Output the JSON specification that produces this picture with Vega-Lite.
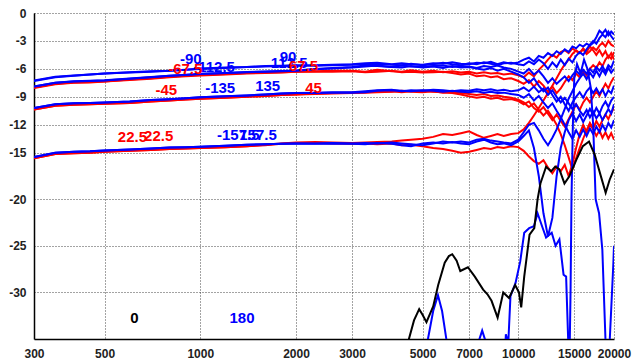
{
"$schema":"https://vega.github.io/schema/vega-lite/v6.json",
"width":580,"height":326,
"autosize":{"type":"none"},
"padding":{"left":34,"top":13,"right":19,"bottom":21},
"config":{
 "view":{"stroke":null},
 "font":"Liberation Sans",
 "locale":{"number":{"decimal":".","thousands":",","grouping":[3],"currency":["$",""],"minus":"-"}},
 "axis":{"labelFont":"Liberation Sans","labelFontWeight":"bold","labelFontSize":12,"labelColor":"#222","grid":true,"gridColor":"#333","gridDash":[1,2],"gridWidth":1,"gridOpacity":0.9,"domainColor":"#000","domainWidth":1.5,"ticks":false,"title":null}
},
"datasets":{
"main":[
{"f":300,"p90":-7.3,"m90":-7.25,"p112":-7.88,"m112":-7.9,"p67":-8.0,"m67":-8.05,"p45":-10.35,"m45":-10.35,"p135":-10.2,"m135":-10.2,"p22":-15.6,"m22":-15.6,"p157":-15.45,"m157":-15.45},
{"f":350,"p90":-6.9,"m90":-6.85,"p112":-7.48,"m112":-7.5,"p67":-7.6,"m67":-7.65,"p45":-9.95,"m45":-9.95,"p135":-9.8,"m135":-9.8,"p22":-15.15,"m22":-15.15,"p157":-15.0,"m157":-15.0},
{"f":400,"p90":-6.75,"m90":-6.7,"p112":-7.33,"m112":-7.35,"p67":-7.45,"m67":-7.5,"p45":-9.85,"m45":-9.85,"p135":-9.7,"m135":-9.7,"p22":-15.05,"m22":-15.05,"p157":-14.9,"m157":-14.9},
{"f":450,"p90":-6.6,"m90":-6.6,"p112":-7.28,"m112":-7.3,"p67":-7.4,"m67":-7.45,"p45":-9.8,"m45":-9.8,"p135":-9.65,"m135":-9.65,"p22":-15.0,"m22":-15.0,"p157":-14.85,"m157":-14.85},
{"f":500,"p90":-6.5,"m90":-6.5,"p112":-7.23,"m112":-7.25,"p67":-7.35,"m67":-7.35,"p45":-9.75,"m45":-9.75,"p135":-9.6,"m135":-9.6,"p22":-14.9,"m22":-14.9,"p157":-14.75,"m157":-14.75},
{"f":600,"p90":-6.4,"m90":-6.35,"p112":-7.03,"m112":-7.05,"p67":-7.15,"m67":-7.2,"p45":-9.65,"m45":-9.65,"p135":-9.5,"m135":-9.5,"p22":-14.8,"m22":-14.8,"p157":-14.65,"m157":-14.65},
{"f":700,"p90":-6.3,"m90":-6.25,"p112":-6.88,"m112":-6.9,"p67":-7.0,"m67":-7.05,"p45":-9.5,"m45":-9.5,"p135":-9.35,"m135":-9.35,"p22":-14.7,"m22":-14.7,"p157":-14.55,"m157":-14.55},
{"f":800,"p90":-6.2,"m90":-6.2,"p112":-6.73,"m112":-6.75,"p67":-6.85,"m67":-6.9,"p45":-9.4,"m45":-9.4,"p135":-9.25,"m135":-9.25,"p22":-14.6,"m22":-14.6,"p157":-14.45,"m157":-14.45},
{"f":900,"p90":-6.1,"m90":-6.1,"p112":-6.63,"m112":-6.65,"p67":-6.75,"m67":-6.8,"p45":-9.3,"m45":-9.3,"p135":-9.15,"m135":-9.15,"p22":-14.55,"m22":-14.55,"p157":-14.4,"m157":-14.4},
{"f":1000,"p90":-6.0,"m90":-5.95,"p112":-6.53,"m112":-6.55,"p67":-6.65,"m67":-6.7,"p45":-9.2,"m45":-9.2,"p135":-9.05,"m135":-9.05,"p22":-14.5,"m22":-14.5,"p157":-14.35,"m157":-14.35},
{"f":1200,"p90":-5.9,"m90":-5.85,"p112":-6.43,"m112":-6.45,"p67":-6.55,"m67":-6.6,"p45":-9.1,"m45":-9.1,"p135":-8.95,"m135":-8.95,"p22":-14.4,"m22":-14.4,"p157":-14.25,"m157":-14.25},
{"f":1400,"p90":-5.8,"m90":-5.8,"p112":-6.33,"m112":-6.35,"p67":-6.45,"m67":-6.5,"p45":-9.0,"m45":-9.0,"p135":-8.85,"m135":-8.85,"p22":-14.3,"m22":-14.3,"p157":-14.15,"m157":-14.15},
{"f":1600,"p90":-5.75,"m90":-5.7,"p112":-6.28,"m112":-6.3,"p67":-6.4,"m67":-6.45,"p45":-8.9,"m45":-8.9,"p135":-8.75,"m135":-8.75,"p22":-14.15,"m22":-14.2,"p157":-14.1,"m157":-14.1},
{"f":1800,"p90":-5.7,"m90":-5.65,"p112":-6.23,"m112":-6.25,"p67":-6.35,"m67":-6.4,"p45":-8.8,"m45":-8.8,"p135":-8.65,"m135":-8.65,"p22":-14.0,"m22":-14.05,"p157":-14.05,"m157":-14.05},
{"f":2000,"p90":-5.65,"m90":-5.6,"p112":-6.18,"m112":-6.2,"p67":-6.3,"m67":-6.3,"p45":-8.75,"m45":-8.75,"p135":-8.6,"m135":-8.6,"p22":-13.9,"m22":-13.95,"p157":-14.0,"m157":-14.0},
{"f":2300,"p90":-5.6,"m90":-5.65,"p112":-6.0,"m112":-6.05,"p67":-6.25,"m67":-6.3,"p45":-8.65,"m45":-8.7,"p135":-8.55,"m135":-8.6,"p22":-13.85,"m22":-13.95,"p157":-14.0,"m157":-14.05},
{"f":2600,"p90":-5.55,"m90":-5.6,"p112":-5.9,"m112":-5.95,"p67":-6.2,"m67":-6.3,"p45":-8.6,"m45":-8.65,"p135":-8.5,"m135":-8.55,"p22":-13.9,"m22":-14.0,"p157":-13.95,"m157":-14.0},
{"f":3000,"p90":-5.5,"m90":-5.55,"p112":-5.8,"m112":-5.85,"p67":-6.2,"m67":-6.25,"p45":-8.55,"m45":-8.6,"p135":-8.5,"m135":-8.55,"p22":-13.95,"m22":-14.05,"p157":-14.0,"m157":-14.05},
{"f":3300,"p90":-5.4,"m90":-5.5,"p112":-5.65,"m112":-5.75,"p67":-6.3,"m67":-6.35,"p45":-8.5,"m45":-8.55,"p135":-8.4,"m135":-8.5,"p22":-13.9,"m22":-14.0,"p157":-13.95,"m157":-14.1},
{"f":3600,"p90":-5.35,"m90":-5.45,"p112":-5.7,"m112":-5.65,"p67":-6.1,"m67":-6.3,"p45":-8.45,"m45":-8.5,"p135":-8.3,"m135":-8.35,"p22":-13.85,"m22":-14.1,"p157":-14.0,"m157":-13.95},
{"f":4000,"p90":-5.5,"m90":-5.55,"p112":-5.8,"m112":-5.8,"p67":-6.25,"m67":-6.2,"p45":-8.4,"m45":-8.45,"p135":-8.25,"m135":-8.3,"p22":-13.8,"m22":-14.0,"p157":-13.9,"m157":-14.05},
{"f":4300,"p90":-5.4,"m90":-5.6,"p112":-5.65,"m112":-5.85,"p67":-6.3,"m67":-6.35,"p45":-8.5,"m45":-8.35,"p135":-8.4,"m135":-8.35,"p22":-13.7,"m22":-14.2,"p157":-14.0,"m157":-14.2},
{"f":4600,"p90":-5.5,"m90":-5.45,"p112":-5.75,"m112":-5.7,"p67":-6.15,"m67":-6.3,"p45":-8.4,"m45":-8.45,"p135":-8.3,"m135":-8.4,"p22":-13.6,"m22":-14.15,"p157":-14.1,"m157":-14.3},
{"f":5000,"p90":-5.55,"m90":-5.6,"p112":-5.8,"m112":-5.85,"p67":-6.3,"m67":-6.4,"p45":-8.35,"m45":-8.5,"p135":-8.35,"m135":-8.3,"p22":-13.5,"m22":-14.3,"p157":-14.2,"m157":-14.0},
{"f":5400,"p90":-5.4,"m90":-5.5,"p112":-5.7,"m112":-5.75,"p67":-6.2,"m67":-6.35,"p45":-8.45,"m45":-8.4,"p135":-8.25,"m135":-8.35,"p22":-13.3,"m22":-14.5,"p157":-14.0,"m157":-13.9},
{"f":5800,"p90":-5.45,"m90":-5.35,"p112":-5.65,"m112":-5.9,"p67":-6.35,"m67":-6.3,"p45":-8.5,"m45":-8.55,"p135":-8.3,"m135":-8.45,"p22":-13.0,"m22":-14.6,"p157":-13.8,"m157":-14.0},
{"f":6200,"p90":-5.3,"m90":-5.5,"p112":-5.8,"m112":-5.7,"p67":-6.25,"m67":-6.45,"p45":-8.6,"m45":-8.5,"p135":-8.4,"m135":-8.35,"p22":-13.1,"m22":-14.8,"p157":-13.9,"m157":-13.85},
{"f":6600,"p90":-5.45,"m90":-5.6,"p112":-5.7,"m112":-5.85,"p67":-6.4,"m67":-6.6,"p45":-8.75,"m45":-8.6,"p135":-8.3,"m135":-8.45,"p22":-12.9,"m22":-15.0,"p157":-13.8,"m157":-14.0},
{"f":7000,"p90":-5.5,"m90":-5.4,"p112":-5.75,"m112":-5.8,"p67":-6.3,"m67":-6.5,"p45":-8.95,"m45":-8.7,"p135":-8.35,"m135":-8.5,"p22":-12.7,"m22":-14.9,"p157":-13.9,"m157":-14.1},
{"f":7400,"p90":-5.35,"m90":-5.5,"p112":-5.9,"m112":-5.95,"p67":-6.5,"m67":-6.8,"p45":-9.1,"m45":-8.8,"p135":-8.2,"m135":-8.4,"p22":-13.1,"m22":-14.7,"p157":-13.6,"m157":-13.8},
{"f":7800,"p90":-5.4,"m90":-5.3,"p112":-5.7,"m112":-6.1,"p67":-6.35,"m67":-6.7,"p45":-9.0,"m45":-8.7,"p135":-8.3,"m135":-8.55,"p22":-13.4,"m22":-14.5,"p157":-13.5,"m157":-13.6},
{"f":8200,"p90":-5.25,"m90":-5.45,"p112":-5.8,"m112":-5.9,"p67":-6.5,"m67":-6.9,"p45":-9.2,"m45":-8.9,"p135":-8.2,"m135":-8.45,"p22":-13.2,"m22":-14.6,"p157":-13.7,"m157":-13.9},
{"f":8600,"p90":-5.5,"m90":-5.6,"p112":-5.65,"m112":-6.2,"p67":-6.45,"m67":-6.8,"p45":-9.1,"m45":-8.85,"p135":-8.35,"m135":-8.6,"p22":-13.0,"m22":-14.4,"p157":-13.8,"m157":-14.1},
{"f":9000,"p90":-5.3,"m90":-5.4,"p112":-5.85,"m112":-6.0,"p67":-6.6,"m67":-7.1,"p45":-9.3,"m45":-9.0,"p135":-8.25,"m135":-8.55,"p22":-13.2,"m22":-14.5,"p157":-13.9,"m157":-14.0},
{"f":9500,"p90":-5.45,"m90":-5.35,"p112":-6.0,"m112":-6.3,"p67":-6.5,"m67":-7.0,"p45":-9.25,"m45":-9.1,"p135":-8.4,"m135":-8.7,"p22":-13.0,"m22":-14.3,"p157":-14.0,"m157":-14.2},
{"f":10000,"p90":-5.3,"m90":-5.5,"p112":-6.3,"m112":-6.6,"p67":-6.7,"m67":-7.3,"p45":-9.45,"m45":-9.3,"p135":-8.3,"m135":-8.8,"p22":-12.9,"m22":-14.4,"p157":-13.6,"m157":-13.8},
{"f":10400,"p90":-5.0,"m90":-5.6,"p112":-6.5,"m112":-6.9,"p67":-6.9,"m67":-7.6,"p45":-9.8,"m45":-9.6,"p135":-8.0,"m135":-9.1,"p22":-12.5,"m22":-14.8,"p157":-12.8,"m157":-13.2},
{"f":10800,"p90":-4.8,"m90":-5.2,"p112":-6.0,"m112":-7.5,"p67":-6.4,"m67":-7.2,"p45":-9.5,"m45":-10.1,"p135":-8.4,"m135":-8.7,"p22":-11.8,"m22":-15.4,"p157":-12.0,"m157":-12.6},
{"f":11200,"p90":-5.2,"m90":-5.5,"p112":-6.6,"m112":-7.0,"p67":-6.8,"m67":-7.9,"p45":-10.2,"m45":-9.7,"p135":-7.9,"m135":-9.4,"p22":-11.0,"m22":-15.9,"p157":-11.8,"m157":-14.5},
{"f":11600,"p90":-4.6,"m90":-5.0,"p112":-6.2,"m112":-7.8,"p67":-6.1,"m67":-7.3,"p45":-10.6,"m45":-10.4,"p135":-8.5,"m135":-8.9,"p22":-10.2,"m22":-16.2,"p157":-12.6,"m157":-17.5},
{"f":12000,"p90":-4.8,"m90":-5.4,"p112":-6.8,"m112":-8.4,"p67":-5.6,"m67":-7.8,"p45":-10.1,"m45":-11.0,"p135":-8.1,"m135":-9.6,"p22":-9.4,"m22":-15.8,"p157":-13.5,"m157":-21.5},
{"f":12400,"p90":-4.3,"m90":-6.0,"p112":-7.5,"m112":-8.0,"p67":-5.0,"m67":-8.5,"p45":-10.8,"m45":-10.5,"p135":-8.8,"m135":-10.2,"p22":-8.6,"m22":-16.6,"p157":-14.2,"m157":-24.0},
{"f":12800,"p90":-4.6,"m90":-5.3,"p112":-7.0,"m112":-8.8,"p67":-4.5,"m67":-7.9,"p45":-11.5,"m45":-11.2,"p135":-8.3,"m135":-9.7,"p22":-7.8,"m22":-17.2,"p157":-13.4,"m157":-22.0},
{"f":13200,"p90":-4.1,"m90":-5.8,"p112":-7.6,"m112":-9.5,"p67":-4.8,"m67":-8.6,"p45":-10.9,"m45":-12.0,"p135":-9.0,"m135":-10.5,"p22":-7.0,"m22":-16.5,"p157":-12.5,"m157":-17.5},
{"f":13600,"p90":-4.4,"m90":-5.0,"p112":-7.2,"m112":-9.0,"p67":-4.2,"m67":-8.1,"p45":-11.6,"m45":-13.0,"p135":-9.6,"m135":-11.2,"p22":-6.2,"m22":-17.0,"p157":-11.4,"m157":-14.5},
{"f":14000,"p90":-3.9,"m90":-5.6,"p112":-6.8,"m112":-9.8,"p67":-4.0,"m67":-7.4,"p45":-12.2,"m45":-14.2,"p135":-9.1,"m135":-12.0,"p22":-5.5,"m22":-16.3,"p157":-10.3,"m157":-12.8},
{"f":14400,"p90":-4.2,"m90":-4.9,"p112":-7.3,"m112":-10.5,"p67":-4.3,"m67":-6.8,"p45":-11.4,"m45":-15.5,"p135":-9.7,"m135":-12.8,"p22":-5.0,"m22":-17.5,"p157":-9.2,"m157":-11.5},
{"f":14800,"p90":-3.6,"m90":-5.3,"p112":-6.7,"m112":-9.6,"p67":-3.8,"m67":-7.2,"p45":-10.6,"m45":-16.8,"p135":-10.3,"m135":-13.5,"p22":-4.4,"m22":-16.2,"p157":-8.4,"m157":-10.8},
{"f":15200,"p90":-3.8,"m90":-4.6,"p112":-6.2,"m112":-9.0,"p67":-4.1,"m67":-6.5,"p45":-9.8,"m45":-15.6,"p135":-9.8,"m135":-12.6,"p22":-4.0,"m22":-14.5,"p157":-7.6,"m157":-11.6},
{"f":15600,"p90":-3.4,"m90":-4.2,"p112":-6.6,"m112":-8.5,"p67":-4.3,"m67":-6.9,"p45":-10.4,"m45":-14.5,"p135":-10.5,"m135":-13.3,"p22":-4.3,"m22":-13.0,"p157":-7.0,"m157":-10.9},
{"f":16000,"p90":-3.6,"m90":-4.5,"p112":-6.1,"m112":-9.1,"p67":-3.9,"m67":-6.3,"p45":-9.6,"m45":-13.5,"p135":-11.0,"m135":-12.5,"p22":-3.8,"m22":-12.0,"p157":-6.5,"m157":-11.7},
{"f":16400,"p90":-3.3,"m90":-3.9,"p112":-6.5,"m112":-8.4,"p67":-4.4,"m67":-6.7,"p45":-9.1,"m45":-12.6,"p135":-10.4,"m135":-13.2,"p22":-4.2,"m22":-12.8,"p157":-7.1,"m157":-11.0},
{"f":16800,"p90":-3.5,"m90":-3.4,"p112":-6.0,"m112":-8.0,"p67":-4.1,"m67":-6.0,"p45":-9.6,"m45":-11.8,"p135":-11.2,"m135":-12.4,"p22":-3.6,"m22":-11.9,"p157":-6.4,"m157":-10.3},
{"f":17200,"p90":-3.2,"m90":-3.0,"p112":-6.4,"m112":-8.6,"p67":-3.7,"m67":-5.6,"p45":-9.0,"m45":-12.4,"p135":-10.6,"m135":-13.0,"p22":-4.0,"m22":-12.5,"p157":-6.9,"m157":-10.9},
{"f":17600,"p90":-2.6,"m90":-3.3,"p112":-5.8,"m112":-8.1,"p67":-4.0,"m67":-5.9,"p45":-8.4,"m45":-11.6,"p135":-11.3,"m135":-12.2,"p22":-4.5,"m22":-13.2,"p157":-6.2,"m157":-10.2},
{"f":18000,"p90":-1.9,"m90":-2.7,"p112":-6.2,"m112":-8.7,"p67":-3.5,"m67":-5.3,"p45":-8.9,"m45":-12.2,"p135":-10.8,"m135":-12.8,"p22":-4.0,"m22":-12.6,"p157":-6.8,"m157":-10.8},
{"f":18400,"p90":-2.2,"m90":-2.3,"p112":-5.7,"m112":-8.2,"p67":-3.2,"m67":-5.7,"p45":-8.2,"m45":-11.5,"p135":-11.5,"m135":-12.0,"p22":-4.6,"m22":-13.4,"p157":-6.1,"m157":-10.0},
{"f":18800,"p90":-1.8,"m90":-2.6,"p112":-6.3,"m112":-8.9,"p67":-3.6,"m67":-5.0,"p45":-7.6,"m45":-10.9,"p135":-10.9,"m135":-12.6,"p22":-4.1,"m22":-12.8,"p157":-6.6,"m157":-9.5},
{"f":19200,"p90":-2.4,"m90":-2.0,"p112":-5.6,"m112":-8.3,"p67":-3.0,"m67":-4.6,"p45":-8.1,"m45":-11.4,"p135":-10.3,"m135":-11.8,"p22":-4.8,"m22":-13.5,"p157":-5.9,"m157":-10.1},
{"f":19600,"p90":-2.0,"m90":-2.5,"p112":-5.9,"m112":-8.6,"p67":-3.4,"m67":-4.9,"p45":-7.4,"m45":-10.7,"p135":-10.8,"m135":-12.3,"p22":-4.3,"m22":-12.9,"p157":-6.4,"m157":-9.4},
{"f":20000,"p90":-2.3,"m90":-2.9,"p112":-5.1,"m112":-7.8,"p67":-3.6,"m67":-4.2,"p45":-6.9,"m45":-10.2,"p135":-9.8,"m135":-11.5,"p22":-5.0,"m22":-13.6,"p157":-6.0,"m157":-9.0}
],
"low":[
{"s":"0","f":4300,"d":-40},{"s":"0","f":4530,"d":-35},{"s":"0","f":4700,"d":-33.0},{"s":"0","f":4880,"d":-31.8},{"s":"0","f":5000,"d":-32.4},{"s":"0","f":5144,"d":-33.2},{"s":"0","f":5400,"d":-31.5},{"s":"0","f":5600,"d":-29.2},{"s":"0","f":5871,"d":-26.8},{"s":"0","f":6050,"d":-26.1},{"s":"0","f":6200,"d":-25.9},{"s":"0","f":6400,"d":-26.6},{"s":"0","f":6571,"d":-27.7},{"s":"0","f":6945,"d":-27.3},{"s":"0","f":7300,"d":-28.3},{"s":"0","f":7754,"d":-29.7},{"s":"0","f":8000,"d":-30.2},{"s":"0","f":8240,"d":-30.9},{"s":"0","f":8611,"d":-32.7},{"s":"0","f":8970,"d":-30.0},{"s":"0","f":9354,"d":-30.6},{"s":"0","f":9777,"d":-29.2},{"s":"0","f":10050,"d":-30.0},{"s":"0","f":10215,"d":-31.6},{"s":"0","f":10440,"d":-28.3},{"s":"0","f":10850,"d":-23.8},{"s":"0","f":11230,"d":-23.1},{"s":"0","f":11500,"d":-20.0},{"s":"0","f":11740,"d":-18.3},{"s":"0","f":12230,"d":-16.5},{"s":"0","f":12680,"d":-17.0},{"s":"0","f":13070,"d":-16.5},{"s":"0","f":13470,"d":-16.8},{"s":"0","f":13970,"d":-18.3},{"s":"0","f":14490,"d":-17.5},{"s":"0","f":15210,"d":-15.8},{"s":"0","f":15960,"d":-14.3},{"s":"0","f":16690,"d":-13.8},{"s":"0","f":17390,"d":-15.2},{"s":"0","f":18250,"d":-17.7},{"s":"0","f":18830,"d":-19.3},{"s":"0","f":19380,"d":-17.9},{"s":"0","f":20000,"d":-16.8},
{"s":"180","f":5000,"d":-40},{"s":"180","f":5200,"d":-35},{"s":"180","f":5400,"d":-32},{"s":"180","f":5590,"d":-30.3},{"s":"180","f":5760,"d":-32},{"s":"180","f":5940,"d":-35},{"s":"180","f":6100,"d":-40},{"s":"180","f":7400,"d":-40},{"s":"180","f":7550,"d":-35},{"s":"180","f":7700,"d":-34.1},{"s":"180","f":7850,"d":-35},{"s":"180","f":8000,"d":-40},{"s":"180","f":9000,"d":-40},{"s":"180","f":9140,"d":-34.5},{"s":"180","f":9300,"d":-35.5},{"s":"180","f":9450,"d":-30.4},{"s":"180","f":9800,"d":-29.0},{"s":"180","f":10140,"d":-26.7},{"s":"180","f":10440,"d":-23.6},{"s":"180","f":10820,"d":-23.1},{"s":"180","f":11200,"d":-22.9},{"s":"180","f":11500,"d":-21.5},{"s":"180","f":11880,"d":-22.9},{"s":"180","f":12230,"d":-24.1},{"s":"180","f":12740,"d":-23.6},{"s":"180","f":13100,"d":-25.0},{"s":"180","f":13470,"d":-24.3},{"s":"180","f":13880,"d":-28.1},{"s":"180","f":14140,"d":-28.3},{"s":"180","f":14350,"d":-35},{"s":"180","f":14450,"d":-40},{"s":"180","f":14600,"d":-30},{"s":"180","f":14700,"d":-20},{"s":"180","f":14850,"d":-12},{"s":"180","f":15000,"d":-7},{"s":"180","f":15300,"d":-5.5},{"s":"180","f":15700,"d":-6.5},{"s":"180","f":16100,"d":-5},{"s":"180","f":16500,"d":-6},{"s":"180","f":16900,"d":-8},{"s":"180","f":17200,"d":-12},{"s":"180","f":17510,"d":-20},{"s":"180","f":17950,"d":-21.5},{"s":"180","f":18380,"d":-25.4},{"s":"180","f":18800,"d":-35},{"s":"180","f":19000,"d":-40},{"s":"180","f":19400,"d":-35},{"s":"180","f":19900,"d":-27.0},{"s":"180","f":20000,"d":-25}
],
"labels":[
{"t":"-90","f":934,"d":-4.95,"c":"blue"},
{"t":"-112.5","f":1105,"d":-5.85,"c":"blue"},
{"t":"-67.5","f":897,"d":-6.05,"c":"red"},
{"t":"90","f":1889,"d":-4.75,"c":"blue"},
{"t":"112.5","f":1903,"d":-5.4,"c":"blue"},
{"t":"67.5","f":2110,"d":-5.7,"c":"red"},
{"t":"-45","f":782,"d":-8.25,"c":"red"},
{"t":"-135","f":1155,"d":-8.05,"c":"blue"},
{"t":"135","f":1629,"d":-7.8,"c":"blue"},
{"t":"45","f":2271,"d":-8.05,"c":"red"},
{"t":"22.5","f":740,"d":-13.2,"c":"red"},
{"t":"22.5","f":612,"d":-13.3,"c":"red"},
{"t":"-157.5","f":1317,"d":-13.05,"c":"blue"},
{"t":"157.5","f":1519,"d":-13.05,"c":"blue"},
{"t":"0","f":621,"d":-32.7,"c":"black"},
{"t":"180","f":1353,"d":-32.7,"c":"blue"}
]
},
"encoding":{
 "x":{"field":"f","type":"quantitative","scale":{"type":"log","domain":[300,20000],"nice":false},
  "axis":{"values":[300,500,1000,2000,3000,5000,7000,10000,15000,20000],"format":"d","labelPadding":9,"labelFlush":false,"labelOverlap":false,"labelBound":false}},
 "y":{"field":"d","type":"quantitative","scale":{"domain":[-35,0],"nice":false,"zero":false},
  "axis":{"values":[0,-3,-6,-9,-12,-15,-20,-25,-30],"labelPadding":8}}
},
"layer":[
 {"data":{"name":"main"},"transform":[{"fold":["m67","p67","m45","p45","m22","p22"],"as":["k","d"]}],
  "mark":{"type":"line","color":"#ff0000","strokeWidth":2,"clip":true},
  "encoding":{"detail":{"field":"k"}}},
 {"data":{"name":"main"},"transform":[{"fold":["m112","p112","m90","p90","m135","p135","m157","p157"],"as":["k","d"]}],
  "mark":{"type":"line","color":"#0000ff","strokeWidth":2,"clip":true},
  "encoding":{"detail":{"field":"k"}}},
 {"data":{"name":"low"},"transform":[{"filter":"datum.s == '180'"}],
  "mark":{"type":"line","color":"#0000ff","strokeWidth":2,"clip":true},
  "encoding":{}},
 {"data":{"name":"low"},"transform":[{"filter":"datum.s == '0'"}],
  "mark":{"type":"line","color":"#000000","strokeWidth":2,"clip":true},
  "encoding":{}},
 {"data":{"name":"labels"},
  "mark":{"type":"text","font":"Liberation Sans","fontWeight":"bold","fontSize":15,"align":"center","baseline":"middle"},
  "encoding":{"text":{"field":"t"},"color":{"field":"c","type":"nominal","scale":{"domain":["red","blue","black"],"range":["#ff0000","#0000ff","#000000"]},"legend":null}}}
]
}
